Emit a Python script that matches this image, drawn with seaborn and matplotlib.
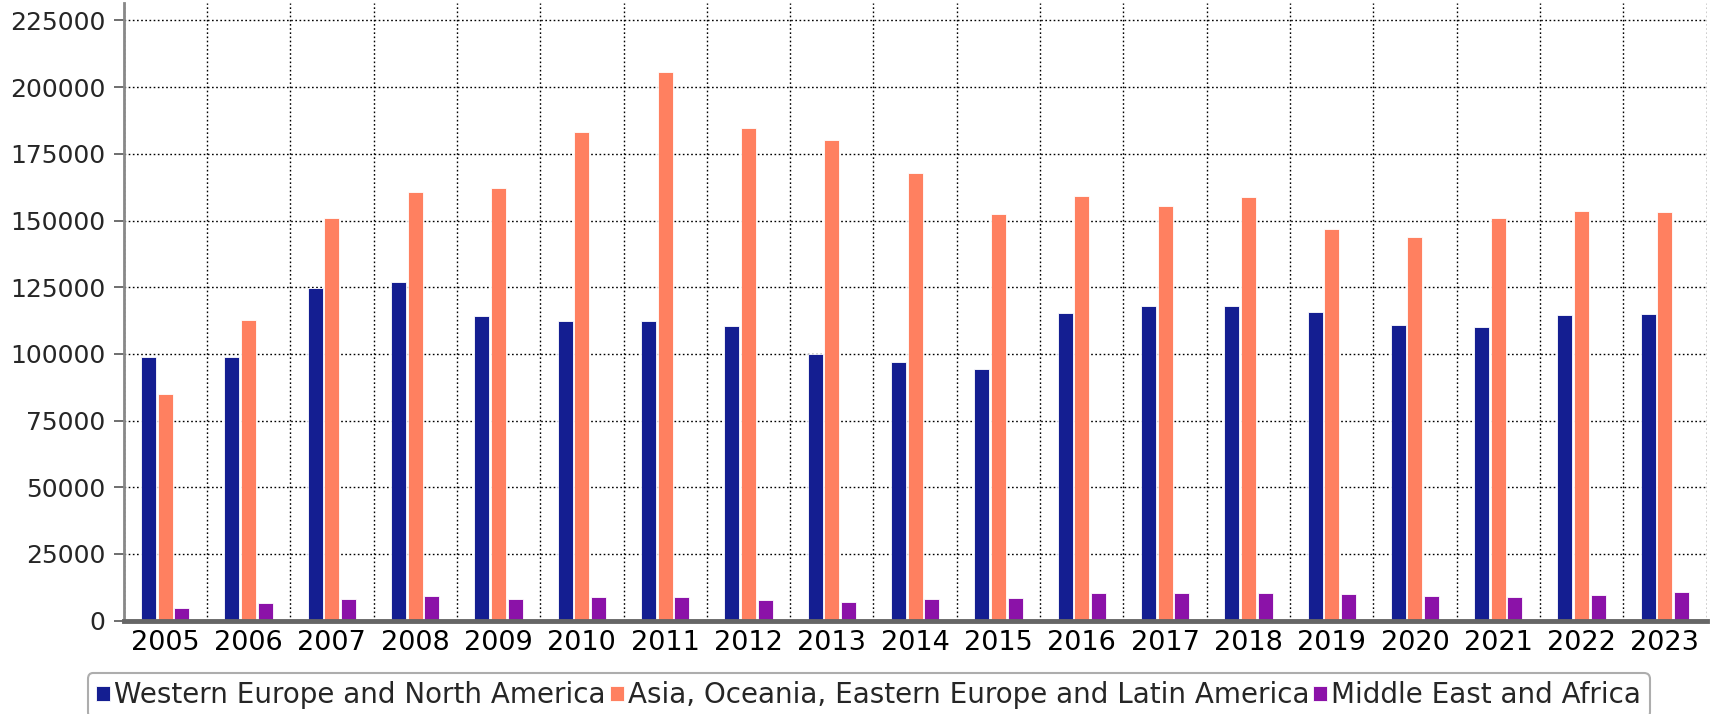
import numpy as np
import pandas as pd
import matplotlib
matplotlib.use("Agg")
import matplotlib.pyplot as plt
import seaborn as sns

years = [str(y) for y in range(2005, 2024)]
series_names = [
    "Western Europe and North America",
    "Asia, Oceania, Eastern Europe and Latin America",
    "Middle East and Africa",
]
western = [99000, 99000, 124700, 127000, 114200, 112300, 112400, 110400, 100000,
           96800, 94400, 115300, 117800, 117800, 115800, 110800, 110000, 114400, 115100]
asia = [85000, 112700, 150900, 160700, 162200, 183300, 205800, 184700, 180000,
        167900, 152500, 159000, 155300, 158900, 146800, 143900, 151000, 153400, 153000]
mea = [4900, 6800, 8100, 9300, 8100, 8800, 8800, 7800, 7100,
       8100, 8400, 10400, 10300, 10400, 10000, 9100, 8900, 9600, 10800]
yticks = list(range(0, 225001, 25000))
colors = ["#141E91", "#FF8060", "#8B12A8"]

df = pd.DataFrame({
    "year": years * 3,
    "value": western + asia + mea,
    "region": [series_names[0]] * len(years) + [series_names[1]] * len(years) + [series_names[2]] * len(years),
})

sns.set_style("white")
plt.rcParams["font.family"] = ["DejaVu Sans"]

fig = plt.figure(figsize=(17.1, 7.14), dpi=100)
ax = fig.add_axes([0.0723, 0.1307, 0.9257, 0.865])

sns.barplot(data=df, x="year", y="value", hue="region", palette=colors,
            width=0.6, gap=0.1, order=years, hue_order=series_names,
            edgecolor="white", linewidth=0.6, saturation=1, ax=ax, legend=True)

ax.set_ylim(0, 231500)
ax.set_xlim(-0.5, len(years) - 0.5)
ax.set_yticks(yticks)
ax.set_yticklabels([str(v) for v in yticks])
ax.set_xticks(np.arange(-0.5, len(years), 1), minor=True)
ax.set_xlabel("")
ax.set_ylabel("")

ax.grid(True, axis="y", which="major", color="black", linestyle=(0, (1.2, 1.8)), linewidth=1.0)
ax.grid(True, axis="x", which="minor", color="black", linestyle=(0, (1.2, 1.8)), linewidth=1.0)
ax.set_axisbelow(True)

ax.tick_params(axis="x", which="major", length=0, labelsize=19.5, pad=7, colors="black")
ax.tick_params(axis="x", which="minor", length=5, width=1, color="#555555", direction="out")
ax.tick_params(axis="y", which="major", length=7, width=1.2, color="#555555", labelsize=18, pad=6, left=True)

for s in ["top", "right"]:
    ax.spines[s].set_visible(False)
ax.spines["left"].set_color("#888888")
ax.spines["left"].set_linewidth(2)
ax.spines["bottom"].set_color("#666666")
ax.spines["bottom"].set_linewidth(3.5)

handles, labels = ax.get_legend_handles_labels()
ax.get_legend().remove()
leg = fig.legend(handles, labels, loc="upper center", bbox_to_anchor=(0.508, 0.0574),
                 ncol=3, frameon=True, fontsize=20, handlelength=0.5, handleheight=0.5,
                 handletextpad=0.15, columnspacing=0.15, borderpad=0.3, fancybox=True,
                 edgecolor="#999999", borderaxespad=0)
leg.get_frame().set_linewidth(1.5)

fig.savefig("out.png", dpi=100)
